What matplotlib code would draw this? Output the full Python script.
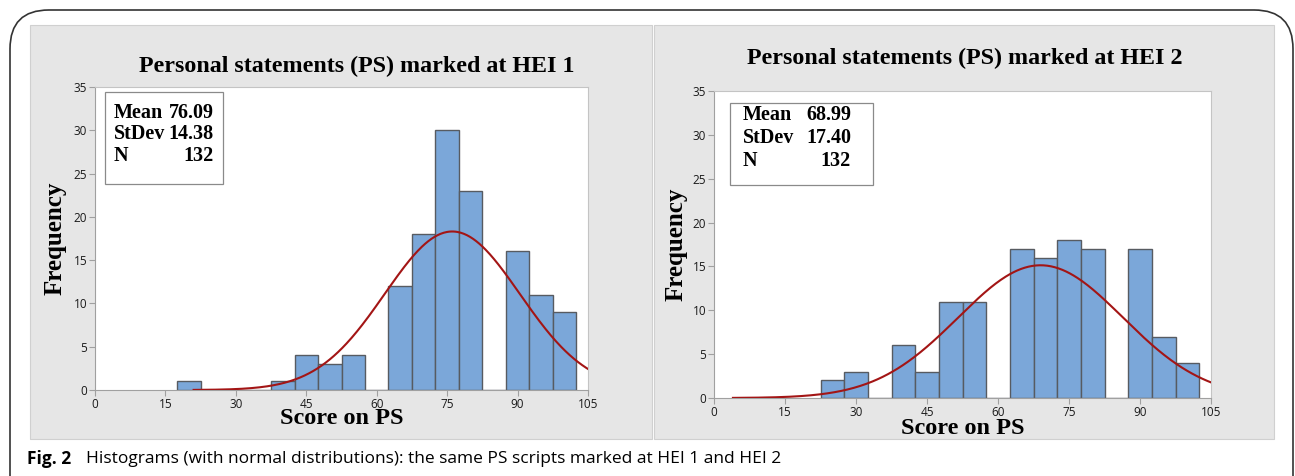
import matplotlib.pyplot as plt
import numpy as np
from matplotlib.patches import Rectangle, FancyBboxPatch

# Histogram data (bin width 5, centres listed)
hei1_centers = [20, 25, 30, 35, 40, 45, 50, 55, 60, 65, 70, 75, 80, 85, 90, 95, 100]
hei1_counts = [1, 0, 0, 0, 1, 4, 3, 4, 0, 12, 18, 30, 23, 0, 16, 11, 9]
hei2_centers = [25, 30, 35, 40, 45, 50, 55, 60, 65, 70, 75, 80, 85, 90, 95, 100]
hei2_counts = [2, 3, 0, 6, 3, 11, 11, 0, 17, 16, 18, 17, 0, 17, 7, 4]

hei1_stats = {"mean": 76.09, "sd": 14.38, "n": 132}
hei2_stats = {"mean": 68.99, "sd": 17.40, "n": 132}
curve_start = [21, 4]
bin_width = 5

titles = ["Personal statements (PS) marked at HEI 1",
          "Personal statements (PS) marked at HEI 2"]
caption_bold = "Fig. 2"
caption = "Histograms (with normal distributions): the same PS scripts marked at HEI 1 and HEI 2"

W, H = 1295, 476
fig = plt.figure(figsize=(W / 100, H / 100), dpi=100)


def fx(px):
    return px / W


def fy(py):
    return 1 - py / H


serif = "Liberation Serif"
tick_font = "Open Sans"

# outer rounded frame
frame = FancyBboxPatch((fx(10), fy(520)), fx(1283), (520 - 10) / H,
                       boxstyle="round,pad=0,rounding_size=0.03",
                       transform=fig.transFigure, fc="white", ec="#333333",
                       lw=1.2, mutation_aspect=W / H, zorder=-10)
fig.patches.append(frame)

# grey panels
for x0, x1 in [(30, 652), (654, 1274)]:
    fig.patches.append(Rectangle((fx(x0), fy(439)), fx(x1 - x0), (439 - 25) / H,
                                 transform=fig.transFigure, fc="#e6e6e6",
                                 ec="#d0d0d0", lw=0.8, zorder=-9))

panels = [
    dict(axes=(95, 588, 87, 390), centers=hei1_centers, counts=hei1_counts,
         stats=hei1_stats, start=curve_start[0], title_y=66, title_x=357,
         xlabel_y=419, ylabel_x=55, box=(105, 223, 92, 184),
         text_x=(114, 214), rows=(113, 134, 156)),
    dict(axes=(714, 1211, 91, 398), centers=hei2_centers, counts=hei2_counts,
         stats=hei2_stats, start=curve_start[1], title_y=58, title_x=965,
         xlabel_y=429, ylabel_x=676, box=(730, 873, 103, 185),
         text_x=(743, 851), rows=(115, 138, 161)),
]

for i, p in enumerate(panels):
    l, r, t, b = p["axes"]
    ax = fig.add_axes([fx(l), fy(b), fx(r - l), (b - t) / H])
    ax.bar(p["centers"], p["counts"], width=bin_width, color="#7ba7d9",
           edgecolor="#575b61", linewidth=1.0, zorder=2)
    st = p["stats"]
    xs = np.linspace(p["start"], 110, 400)
    ys = st["n"] * bin_width / (st["sd"] * np.sqrt(2 * np.pi)) * \
        np.exp(-0.5 * ((xs - st["mean"]) / st["sd"]) ** 2)
    ax.plot(xs, ys, color="#a31515", lw=1.5, zorder=3)

    ax.set_xlim(0, 105)
    ax.set_ylim(0, 35)
    ax.set_xticks(range(0, 106, 15))
    ax.set_yticks(range(0, 36, 5))
    ax.tick_params(length=4, width=0.8, color="#a0a0a0", labelsize=8.5,
                   labelcolor="#1a1a1a", pad=1.5)
    for lab in ax.get_xticklabels() + ax.get_yticklabels():
        lab.set_fontfamily(tick_font)
    for side in ["left", "bottom"]:
        ax.spines[side].set_color("#a0a0a0")
    for side in ["top", "right"]:
        ax.spines[side].set_color("#c4c4c4")

    # stats box
    bl, br, bt, bb = p["box"]
    fig.patches.append(Rectangle((fx(bl), fy(bb)), fx(br - bl), (bb - bt) / H,
                                 transform=fig.transFigure, fc="white",
                                 ec="#8a8a8a", lw=0.9, zorder=5))
    rows = [("Mean", f"{st['mean']:.2f}"), ("StDev", f"{st['sd']:.2f}"),
            ("N", f"{st['n']}")]
    for (name, val), ry in zip(rows, p["rows"]):
        fig.text(fx(p["text_x"][0]), fy(ry), name, ha="left", va="center",
                 family=serif, weight="bold", fontsize=14.5, zorder=6)
        fig.text(fx(p["text_x"][1]), fy(ry), val, ha="right", va="center",
                 family=serif, weight="bold", fontsize=14.5, zorder=6)

    fig.text(fx(p["title_x"]), fy(p["title_y"]), titles[i], ha="center",
             va="center", family=serif, weight="bold", fontsize=17.3)
    fig.text(fx((l + r) / 2), fy(p["xlabel_y"]), "Score on PS", ha="center",
             va="center", family=serif, weight="bold", fontsize=17.5)
    fig.text(fx(p["ylabel_x"]), fy((t + b) / 2), "Frequency", ha="center",
             va="center", rotation=90, family=serif, weight="bold",
             fontsize=18)

fig.text(fx(27), fy(459), caption_bold, ha="left", va="center",
         family=["Open Sans", "DejaVu Sans"], weight="bold", fontsize=12.5)
fig.text(fx(86), fy(459), caption, ha="left", va="center",
         family=["Open Sans", "DejaVu Sans"], fontsize=12.5)

fig.savefig("out.png", dpi=100)
